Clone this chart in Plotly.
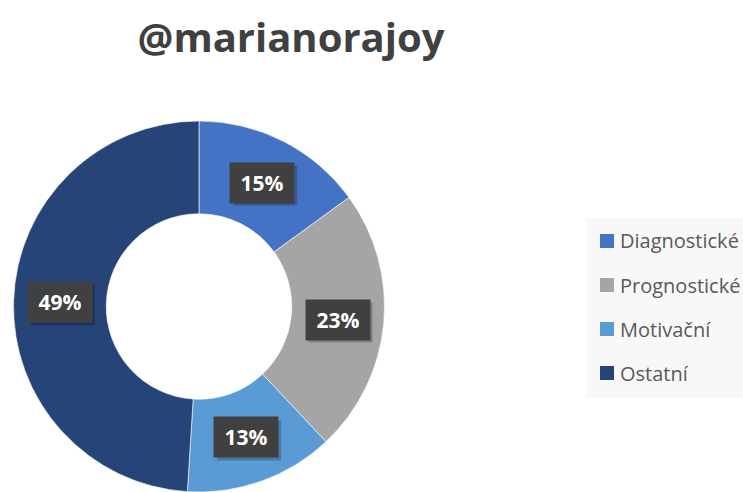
import math
import plotly.graph_objects as go

# date
categories = ["Diagnostické", "Prognostické", "Motivační", "Ostatní"]
values = [15, 23, 13, 49]
colors = ["#4472C4", "#A5A5A5", "#5B9BD5", "#264478"]
title_text = "@marianorajoy"

W, H = 743, 492
HOLE = 0.5

# geometria inelului (pixeli)
cx, top, R = 199, 121, 185.5
cy = top + R
dom_x = [(cx - R) / W, (cx + R) / W]
dom_y = [0, (H - top) / H]


def px(x, y):
    return x / W, 1 - y / H


fig = go.Figure()

fig.add_trace(go.Pie(
    labels=categories,
    values=values,
    hole=HOLE,
    sort=False,
    direction="clockwise",
    rotation=0,
    marker=dict(colors=colors, line=dict(color="white", width=0.6)),
    textinfo="none",
    hoverinfo="label+percent",
    showlegend=False,
    domain=dict(x=dom_x, y=dom_y),
))

shapes = []
annotations = []

# etichete procentuale in casete inchise (umbra ca dreptunghi)
total = sum(values)
rm = R * (1 + HOLE) / 2
bw, bh = 64, 40
cum = 0
for v in values:
    theta = (cum + v / 2) / total * 2 * math.pi
    cum += v
    lx = cx + rm * math.sin(theta)
    ly = cy - rm * math.cos(theta)
    x0, y0 = px(lx - bw / 2 + 3, ly + bh / 2 + 3)
    x1, y1 = px(lx + bw / 2 + 3, ly - bh / 2 + 3)
    shapes.append(dict(type="rect", xref="paper", yref="paper", x0=x0, y0=y0, x1=x1, y1=y1,
                       line_width=0, fillcolor="rgba(0,0,0,0.22)", layer="above"))
    ax, ay = px(lx, ly)
    annotations.append(dict(x=ax, y=ay, xref="paper", yref="paper",
                            xanchor="center", yanchor="middle",
                            text=f"<b>{round(v / total * 100)}%</b>",
                            showarrow=False, width=bw - 2, height=bh - 2, borderpad=1,
                            bgcolor="#404040",
                            font=dict(family="Open Sans", size=21, color="white")))

# legenda construita manual
lx0, ly0 = px(587, 398)
lx1, ly1 = px(W + 5, 218)
shapes.append(dict(type="rect", xref="paper", yref="paper", x0=lx0, y0=ly0, x1=lx1, y1=ly1,
                   line_width=0, fillcolor="#F8F8F8", layer="below"))
for i, (cat, col) in enumerate(zip(categories, colors)):
    yc = 241 + i * 44
    x0, y0 = px(600, yc + 7)
    x1, y1 = px(614, yc - 7)
    shapes.append(dict(type="rect", xref="paper", yref="paper", x0=x0, y0=y0, x1=x1, y1=y1,
                       line_width=0, fillcolor=col))
    tx, ty = px(618, yc)
    annotations.append(dict(x=tx, y=ty, xref="paper", yref="paper", text=cat,
                            showarrow=False, xanchor="left", yanchor="middle",
                            font=dict(family="Open Sans", size=20, color="#595959")))

fig.update_layout(
    width=W,
    height=H,
    title=dict(text=f"<b>{title_text}</b>", x=291 / W, xanchor="center", y=1 - 38 / H,
               yanchor="middle", font=dict(family="Open Sans", size=40, color="#404040")),
    margin=dict(l=0, r=0, t=0, b=0),
    paper_bgcolor="white",
    plot_bgcolor="white",
    shapes=shapes,
    annotations=annotations,
)

fig.write_html("out.html", config={"displayModeBar": False},
               post_script="document.body.style.margin='0';")
